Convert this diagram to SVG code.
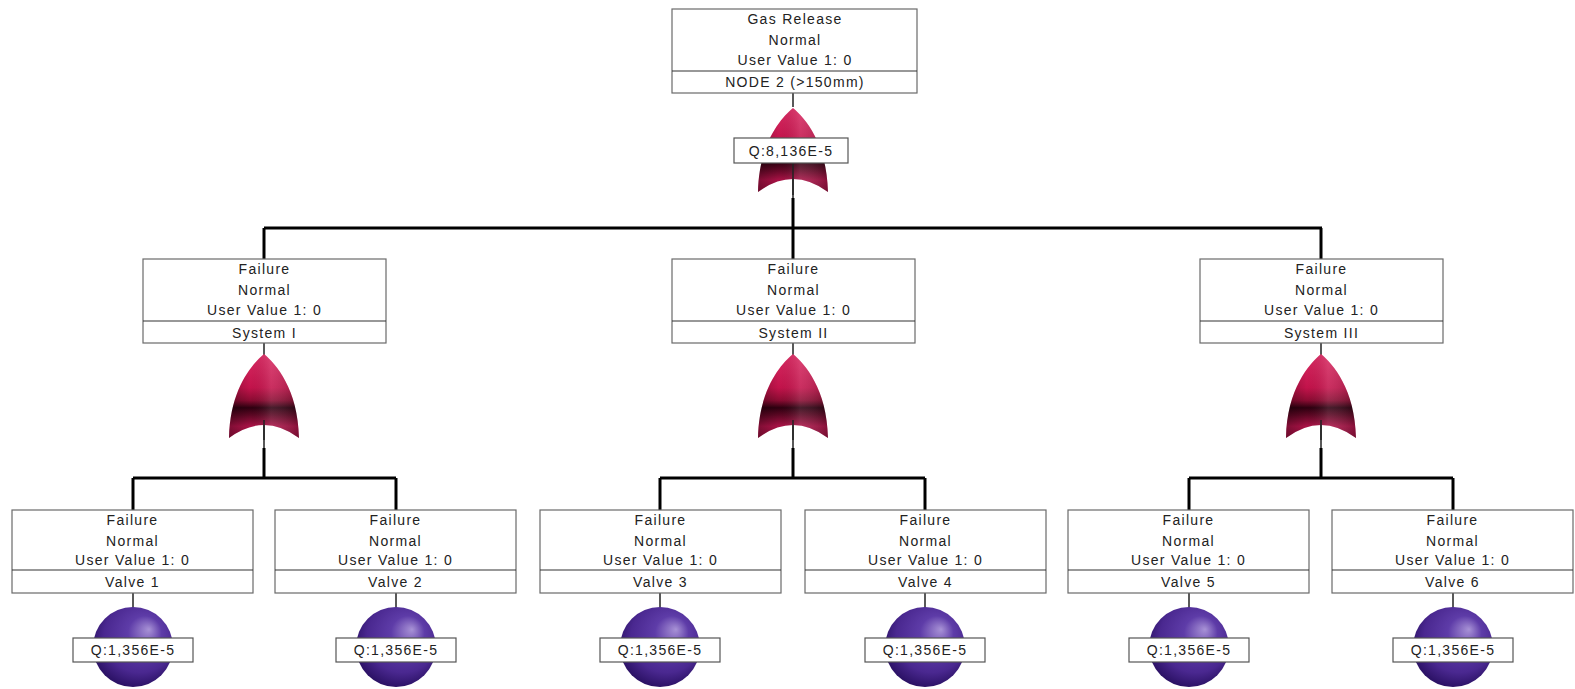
<svg xmlns="http://www.w3.org/2000/svg" xmlns:xlink="http://www.w3.org/1999/xlink" width="1575" height="689" viewBox="0 0 1575 689">
<defs>
<style>
.box{fill:#fff;stroke:#6a6a6a;stroke-width:1.2}
.div{stroke:#333;stroke-width:1.2}
.t{font-family:"Liberation Sans",Arial,sans-serif;font-size:14px;letter-spacing:1.3px;fill:#222;text-anchor:middle}
.bus{stroke:#000;stroke-width:3;fill:none}
.thin{stroke:#222;stroke-width:1.5;fill:none}
.q{fill:#fff;stroke:#555;stroke-width:1.2}
</style>
<linearGradient id="gg" x1="0" y1="0" x2="0" y2="1">
<stop offset="0" stop-color="#d82a62"/>
<stop offset="0.4" stop-color="#c3134b"/>
<stop offset="0.55" stop-color="#8c0c33"/>
<stop offset="0.64" stop-color="#2e0010"/>
<stop offset="0.73" stop-color="#5e0724"/>
<stop offset="0.86" stop-color="#aa1246"/>
<stop offset="1" stop-color="#8e0e3a"/>
</linearGradient>
<linearGradient id="gh" x1="0" y1="0" x2="1" y2="0">
<stop offset="0" stop-color="#000" stop-opacity="0.25"/>
<stop offset="0.3" stop-color="#000" stop-opacity="0"/>
<stop offset="0.6" stop-color="#fff" stop-opacity="0.12"/>
<stop offset="1" stop-color="#000" stop-opacity="0.2"/>
</linearGradient>
<radialGradient id="sg" cx="0.55" cy="0.4" r="0.6" fx="0.7" fy="0.28">
<stop offset="0" stop-color="#a892d6"/>
<stop offset="0.35" stop-color="#5e3ca8"/>
<stop offset="0.75" stop-color="#4a2890"/>
<stop offset="1" stop-color="#2c1266"/>
</radialGradient>
<path id="gp" d="M0,0 C-12,10 -34,35 -35,84 Q0,58 35,84 C34,35 12,10 0,0 Z"/>
<g id="gate"><use xlink:href="#gp" fill="url(#gg)"/><use xlink:href="#gp" fill="url(#gh)"/></g>
<circle id="ball" r="40" fill="url(#sg)"/>
</defs>

<g id="connectors">
<line class="thin" x1="793" y1="93" x2="793" y2="107"/>
<line class="thin" x1="793" y1="170" x2="793" y2="200"/>
<line class="bus" x1="793" y1="198" x2="793" y2="228"/>
<line class="bus" x1="264" y1="228" x2="1322" y2="228"/>
<line class="bus" x1="264" y1="228" x2="264" y2="259"/>
<line class="bus" x1="793" y1="228" x2="793" y2="259"/>
<line class="bus" x1="1321" y1="228" x2="1321" y2="259"/>

<line class="thin" x1="264" y1="343" x2="264" y2="448"/>
<line class="thin" x1="793" y1="343" x2="793" y2="448"/>
<line class="thin" x1="1321" y1="343" x2="1321" y2="448"/>
<line class="bus" x1="264" y1="448" x2="264" y2="478"/>
<line class="bus" x1="793" y1="448" x2="793" y2="478"/>
<line class="bus" x1="1321" y1="448" x2="1321" y2="478"/>
<line class="bus" x1="133" y1="478" x2="396" y2="478"/>
<line class="bus" x1="660" y1="478" x2="925" y2="478"/>
<line class="bus" x1="1189" y1="478" x2="1453" y2="478"/>
<line class="bus" x1="133" y1="478" x2="133" y2="510"/>
<line class="bus" x1="396" y1="478" x2="396" y2="510"/>
<line class="bus" x1="660" y1="478" x2="660" y2="510"/>
<line class="bus" x1="925" y1="478" x2="925" y2="510"/>
<line class="bus" x1="1189" y1="478" x2="1189" y2="510"/>
<line class="bus" x1="1453" y1="478" x2="1453" y2="510"/>
<line class="thin" x1="133" y1="593" x2="133" y2="610"/>
<line class="thin" x1="396" y1="593" x2="396" y2="610"/>
<line class="thin" x1="660" y1="593" x2="660" y2="610"/>
<line class="thin" x1="925" y1="593" x2="925" y2="610"/>
<line class="thin" x1="1189" y1="593" x2="1189" y2="610"/>
<line class="thin" x1="1453" y1="593" x2="1453" y2="610"/>
</g>

<g id="top">
<rect class="box" x="672" y="9" width="245" height="84"/>
<line class="div" x1="672" y1="71" x2="917" y2="71"/>
<text class="t" x="795" y="24">Gas Release</text>
<text class="t" x="795" y="45">Normal</text>
<text class="t" x="795" y="65">User Value 1: 0</text>
<text class="t" x="795" y="87">NODE 2 (&gt;150mm)</text>
<use xlink:href="#gate" x="793" y="108"/>
<line class="thin" x1="793" y1="163" x2="793" y2="195"/>
<rect class="q" x="734" y="138" width="114" height="25"/>
<text class="t" x="791" y="156">Q:8,136E-5</text>
</g>

<g id="sys1">
<rect class="box" x="143" y="259" width="243" height="84"/>
<line class="div" x1="143" y1="321" x2="386" y2="321"/>
<text class="t" x="264.5" y="274">Failure</text>
<text class="t" x="264.5" y="295">Normal</text>
<text class="t" x="264.5" y="315">User Value 1: 0</text>
<text class="t" x="264.5" y="338">System I</text>
<use xlink:href="#gate" x="264" y="354"/>
<line class="thin" x1="264" y1="420" x2="264" y2="440"/>
</g>

<g id="sys2">
<rect class="box" x="672" y="259" width="243" height="84"/>
<line class="div" x1="672" y1="321" x2="915" y2="321"/>
<text class="t" x="793.5" y="274">Failure</text>
<text class="t" x="793.5" y="295">Normal</text>
<text class="t" x="793.5" y="315">User Value 1: 0</text>
<text class="t" x="793.5" y="338">System II</text>
<use xlink:href="#gate" x="793" y="354"/>
<line class="thin" x1="793" y1="420" x2="793" y2="440"/>
</g>

<g id="sys3">
<rect class="box" x="1200" y="259" width="243" height="84"/>
<line class="div" x1="1200" y1="321" x2="1443" y2="321"/>
<text class="t" x="1321.5" y="274">Failure</text>
<text class="t" x="1321.5" y="295">Normal</text>
<text class="t" x="1321.5" y="315">User Value 1: 0</text>
<text class="t" x="1321.5" y="338">System III</text>
<use xlink:href="#gate" x="1321" y="354"/>
<line class="thin" x1="1321" y1="420" x2="1321" y2="440"/>
</g>

<g id="valve1">
<rect class="box" x="12" y="510" width="241" height="83"/>
<line class="div" x1="12" y1="570" x2="253" y2="570"/>
<text class="t" x="132.5" y="525">Failure</text>
<text class="t" x="132.5" y="546">Normal</text>
<text class="t" x="132.5" y="565">User Value 1: 0</text>
<text class="t" x="132.5" y="587">Valve 1</text>
<use xlink:href="#ball" x="133" y="647"/>
<rect class="q" x="73" y="638" width="120" height="24"/>
<text class="t" x="133" y="655">Q:1,356E-5</text>
</g>

<g id="valve2">
<rect class="box" x="275" y="510" width="241" height="83"/>
<line class="div" x1="275" y1="570" x2="516" y2="570"/>
<text class="t" x="395.5" y="525">Failure</text>
<text class="t" x="395.5" y="546">Normal</text>
<text class="t" x="395.5" y="565">User Value 1: 0</text>
<text class="t" x="395.5" y="587">Valve 2</text>
<use xlink:href="#ball" x="396" y="647"/>
<rect class="q" x="336" y="638" width="120" height="24"/>
<text class="t" x="396" y="655">Q:1,356E-5</text>
</g>

<g id="valve3">
<rect class="box" x="540" y="510" width="241" height="83"/>
<line class="div" x1="540" y1="570" x2="781" y2="570"/>
<text class="t" x="660.5" y="525">Failure</text>
<text class="t" x="660.5" y="546">Normal</text>
<text class="t" x="660.5" y="565">User Value 1: 0</text>
<text class="t" x="660.5" y="587">Valve 3</text>
<use xlink:href="#ball" x="660" y="647"/>
<rect class="q" x="600" y="638" width="120" height="24"/>
<text class="t" x="660" y="655">Q:1,356E-5</text>
</g>

<g id="valve4">
<rect class="box" x="805" y="510" width="241" height="83"/>
<line class="div" x1="805" y1="570" x2="1046" y2="570"/>
<text class="t" x="925.5" y="525">Failure</text>
<text class="t" x="925.5" y="546">Normal</text>
<text class="t" x="925.5" y="565">User Value 1: 0</text>
<text class="t" x="925.5" y="587">Valve 4</text>
<use xlink:href="#ball" x="925" y="647"/>
<rect class="q" x="865" y="638" width="120" height="24"/>
<text class="t" x="925" y="655">Q:1,356E-5</text>
</g>

<g id="valve5">
<rect class="box" x="1068" y="510" width="241" height="83"/>
<line class="div" x1="1068" y1="570" x2="1309" y2="570"/>
<text class="t" x="1188.5" y="525">Failure</text>
<text class="t" x="1188.5" y="546">Normal</text>
<text class="t" x="1188.5" y="565">User Value 1: 0</text>
<text class="t" x="1188.5" y="587">Valve 5</text>
<use xlink:href="#ball" x="1189" y="647"/>
<rect class="q" x="1129" y="638" width="120" height="24"/>
<text class="t" x="1189" y="655">Q:1,356E-5</text>
</g>

<g id="valve6">
<rect class="box" x="1332" y="510" width="241" height="83"/>
<line class="div" x1="1332" y1="570" x2="1573" y2="570"/>
<text class="t" x="1452.5" y="525">Failure</text>
<text class="t" x="1452.5" y="546">Normal</text>
<text class="t" x="1452.5" y="565">User Value 1: 0</text>
<text class="t" x="1452.5" y="587">Valve 6</text>
<use xlink:href="#ball" x="1453" y="647"/>
<rect class="q" x="1393" y="638" width="120" height="24"/>
<text class="t" x="1453" y="655">Q:1,356E-5</text>
</g>
</svg>
